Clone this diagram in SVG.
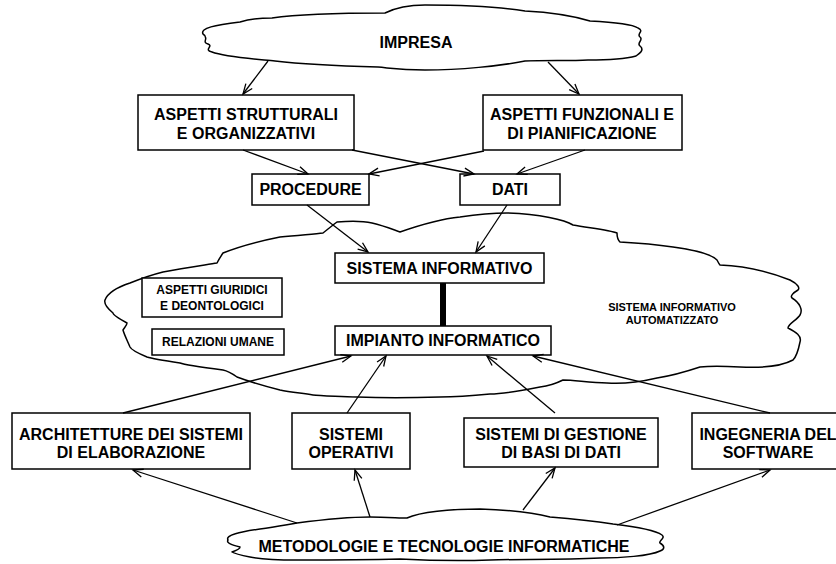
<svg xmlns="http://www.w3.org/2000/svg" width="836" height="564" viewBox="0 0 836 564">
<defs>
<style>
.box{fill:#fff;stroke:#000;stroke-width:1.5}
.cloud{fill:#fff;stroke:#000;stroke-width:1.5;stroke-linejoin:round}
.lbl{font-family:"Liberation Sans",Arial,sans-serif;font-weight:bold;font-size:16px;text-anchor:middle;fill:#000}
.sm{font-family:"Liberation Sans",Arial,sans-serif;font-weight:bold;font-size:12px;text-anchor:middle;fill:#000}
.xs{font-family:"Liberation Sans",Arial,sans-serif;font-weight:bold;font-size:11px;text-anchor:middle;fill:#000}
.conn{stroke:#000;stroke-width:1.3;fill:none}
.arr{marker-end:url(#ah)}
</style>
<marker id="ah" markerUnits="userSpaceOnUse" markerWidth="14" markerHeight="12" refX="11" refY="5" orient="auto">
<path d="M1,1 L11,5 L1,9" fill="none" stroke="#000" stroke-width="1.3"/>
</marker>
</defs>
<rect width="836" height="564" fill="#fff"/>

<g id="cloud-sistema-informativo-automatizzato">
<path class="cloud" d="M337,222 C350,221 363,221 372,223 C385,226 394,230 400,232 C420,225 440,219 460,217 C480,214 495,213 507,213 C540,214 565,220 573,225 C590,228 610,230 617,233 C617,237 618,240 620,242 C640,243 660,245 673,247 C695,250 712,255 717,260 C718,262 719,264 720,265 C745,266 770,272 790,280 C798,284 800,288 798,290 C793,293 790,296 792,298 C800,303 803,310 800,315 C797,320 788,324 788,328 C796,332 802,336 800,342 C798,352 795,358 793,360 C780,367 760,368 740,367 C720,366 710,366 700,367 C685,372 670,376 657,378 C640,382 620,384 607,383 C590,383 575,380 563,380 C555,384 548,386 540,387 C520,391 500,394 490,394 C470,396 455,397 440,397 C410,398 380,398 357,397 C335,396 320,396 313,395 C300,393 290,392 280,390 C260,385 245,380 237,377 C230,372 228,371 223,370 C200,367 185,365 180,363 C160,360 150,358 147,357 C135,352 131,349 130,347 C127,340 124,334 123,330 C125,327 127,325 127,323 C118,318 113,315 113,313 C107,308 104,303 105,300 C108,292 118,287 130,283 C145,277 155,274 163,272 C185,268 205,265 217,263 C219,259 221,256 223,253 C245,244 265,240 280,237 C300,235 315,234 323,233 C328,229 333,225 337,222 Z"/>
<text class="xs" x="672" y="311">SISTEMA INFORMATIVO</text>
<text class="xs" x="672" y="324">AUTOMATIZZATO</text>
</g>

<g id="cloud-impresa">
<path class="cloud" d="M203,34 C200,28 215,25 240,22 C250,19 262,18 272,18 C300,14 350,13 385,13 C395,8 410,5 425,5 C460,5 500,7 525,11 C545,12 570,15 590,21 C610,22 632,24 638,28 C645,31 636,34 640,37 C644,40 636,43 640,46 C645,50 639,54 636,56 C625,59 600,60 588,60 C570,61 545,60 525,61 C500,66 460,70 425,70 C400,70 390,68 378,67 C340,66 300,64 275,61 C255,59 225,57 212,52 C203,50 214,46 208,44 C201,42 210,38 203,34 Z"/>
<text class="lbl" x="416" y="48">IMPRESA</text>
</g>

<g id="cloud-metodologie">
<path class="cloud" d="M228,540 C225,535 240,532 260,529 C275,527 285,525 297,523 C320,520 350,517 370,517 C385,517 400,518 407,518 C420,512 450,509 480,509 C510,510 535,513 550,517 C575,519 600,522 613,524 C630,526 655,530 662,535 C666,538 658,541 660,543 C665,546 665,549 660,551 C650,556 620,558 600,558 C560,560 520,559 490,560 C460,561 420,560 400,559 C360,560 320,560 297,560 C275,560 260,559 250,557 C240,555 235,554 232,552 C238,550 240,548 240,547 C232,545 226,543 228,540 Z"/>
<text class="lbl" x="444" y="552">METODOLOGIE E TECNOLOGIE INFORMATICHE</text>
</g>

<g id="aspetti-strutturali">
<rect class="box" x="138" y="95" width="216" height="55"/>
<text class="lbl" x="246" y="120">ASPETTI STRUTTURALI</text>
<text class="lbl" x="246" y="139">E ORGANIZZATIVI</text>
</g>

<g id="aspetti-funzionali">
<rect class="box" x="483" y="95" width="199" height="55"/>
<text class="lbl" x="582" y="120">ASPETTI FUNZIONALI E</text>
<text class="lbl" x="582" y="139">DI PIANIFICAZIONE</text>
</g>

<g id="procedure">
<rect class="box" x="252" y="174" width="117" height="31"/>
<text class="lbl" x="310.5" y="195">PROCEDURE</text>
</g>

<g id="dati">
<rect class="box" x="460" y="174" width="100" height="31"/>
<text class="lbl" x="510" y="195">DATI</text>
</g>

<g id="sistema-informativo">
<rect class="box" x="335" y="253" width="209" height="30"/>
<text class="lbl" x="439.5" y="274">SISTEMA INFORMATIVO</text>
</g>

<g id="impianto-informatico">
<rect class="box" x="335" y="326" width="216" height="29"/>
<text class="lbl" x="443" y="346">IMPIANTO INFORMATICO</text>
</g>

<g id="aspetti-giuridici">
<rect class="box" x="142" y="278" width="140" height="39"/>
<text class="sm" x="212" y="294">ASPETTI GIURIDICI</text>
<text class="sm" x="212" y="310">E DEONTOLOGICI</text>
</g>

<g id="relazioni-umane">
<rect class="box" x="152" y="329" width="132" height="26"/>
<text class="sm" x="218" y="346">RELAZIONI UMANE</text>
</g>

<g id="architetture">
<rect class="box" x="12" y="413" width="238" height="56"/>
<text class="lbl" x="131" y="440">ARCHITETTURE DEI SISTEMI</text>
<text class="lbl" x="131" y="458">DI ELABORAZIONE</text>
</g>

<g id="sistemi-operativi">
<rect class="box" x="292" y="413" width="118" height="56"/>
<text class="lbl" x="351" y="440">SISTEMI</text>
<text class="lbl" x="351" y="458">OPERATIVI</text>
</g>

<g id="sistemi-gestione">
<rect class="box" x="464" y="418" width="194" height="49"/>
<text class="lbl" x="561" y="440">SISTEMI DI GESTIONE</text>
<text class="lbl" x="561" y="458">DI BASI DI DATI</text>
</g>

<g id="ingegneria-software">
<rect class="box" x="692" y="413" width="152" height="56"/>
<text class="lbl" x="768" y="440">INGEGNERIA DEL</text>
<text class="lbl" x="768" y="458">SOFTWARE</text>
</g>

<g id="connectors">
<line class="conn arr" x1="268" y1="61" x2="243" y2="94"/>
<line class="conn arr" x1="548" y1="62" x2="579" y2="94"/>
<line class="conn arr" x1="243" y1="150" x2="308" y2="174"/>
<line class="conn arr" x1="352" y1="150" x2="474" y2="174"/>
<line class="conn arr" x1="484" y1="151" x2="369" y2="174"/>
<line class="conn arr" x1="585" y1="150" x2="517" y2="174"/>
<line class="conn arr" x1="307" y1="205" x2="368" y2="252"/>
<line class="conn arr" x1="507" y1="205" x2="476" y2="252"/>
<rect x="440" y="283" width="6" height="43" fill="#000"/>
<line class="conn arr" x1="123" y1="413" x2="351" y2="356"/>
<line class="conn arr" x1="347" y1="413" x2="386" y2="356"/>
<line class="conn arr" x1="555" y1="413" x2="487" y2="356"/>
<line class="conn arr" x1="770" y1="413" x2="533" y2="356"/>
<line class="conn arr" x1="297" y1="523" x2="133" y2="470"/>
<line class="conn arr" x1="370" y1="517" x2="355" y2="470"/>
<line class="conn arr" x1="523" y1="510" x2="555" y2="468"/>
<line class="conn arr" x1="617" y1="525" x2="770" y2="470"/>
</g>
</svg>
